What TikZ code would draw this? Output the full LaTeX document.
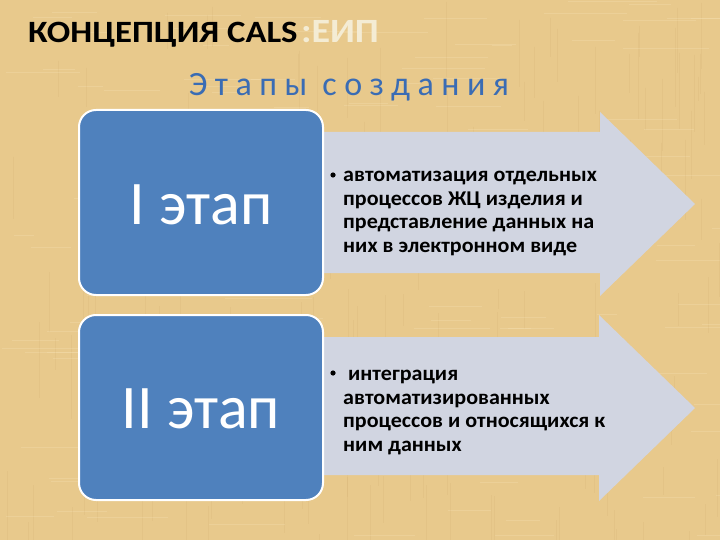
\documentclass[tikz,border=0pt]{standalone}
\usepackage{fontspec}
\setmainfont{Carlito}
\definecolor{bg}{HTML}{E8C98C}
\definecolor{bgdark}{HTML}{C9A466}
\definecolor{bglight}{HTML}{F6E2B4}
\definecolor{boxblue}{HTML}{4F81BD}
\definecolor{arrowgray}{HTML}{D1D5E1}
\definecolor{subblue}{HTML}{3A6CB4}
\definecolor{cream}{HTML}{F4ECD4}
\begin{document}
\begin{tikzpicture}[x=1pt,y=-1pt,
  stagebox/.style={draw=white,line width=2pt,fill=boxblue,rounded corners=17pt},
  bigarrow/.style={fill=arrowgray,draw=none},
  stagelabel/.style={text=white,font=\fontsize{62}{64}\selectfont,inner sep=0pt},
  bullettext/.style={anchor=north west,align=left,inner sep=0pt,
     font=\bfseries\fontsize{21}{23.5}\selectfont\addfontfeature{FakeStretch=1.05},text=black},
  bulletdot/.style={fill=black}]
\fill[bg] (0,0) rectangle (720,540);
\useasboundingbox (0,0) rectangle (720,540);
% woven texture
\pgfmathsetseed{7}
\foreach \i in {1,...,160}{
  \pgfmathsetmacro{\xx}{random(0,720)}
  \pgfmathsetmacro{\yy}{random(0,540)}
  \pgfmathsetmacro{\ll}{random(20,90)}
  \draw[bgdark,opacity=0.14,line width=0.7pt] (\xx,\yy) -- ++(0,\ll);
  \pgfmathsetmacro{\xa}{random(0,720)}
  \pgfmathsetmacro{\ya}{random(0,540)}
  \draw[bglight,opacity=0.3,line width=0.7pt] (\xa,\ya) -- ++(\ll,0);
}
% title
\node[anchor=base west,inner sep=0pt,font=\bfseries\fontsize{31}{32}\selectfont\addfontfeature{FakeStretch=1.12}] (title) at (28,43) {КОНЦЕПЦИЯ CALS};
\node[anchor=base west,inner sep=0pt,font=\bfseries\fontsize{34}{36}\selectfont\addfontfeature{FakeStretch=1.12},text=cream] (eip) at ([xshift=3pt]title.base east) {:ЕИП};
% subtitle
\node[inner sep=0pt,font=\fontsize{34}{36}\selectfont\addfontfeature{LetterSpace=22},text=subblue] (sub) at (349,87) {Этапы создания};
% arrows
\fill[bigarrow] (318,132) -- (600,132) -- (600,112) -- (695,204) -- (600,296) -- (600,273) -- (318,273) -- cycle;
\fill[bigarrow] (318,337) -- (599,337) -- (599,315) -- (695,408) -- (599,501) -- (599,475) -- (318,475) -- cycle;
% boxes
\draw[stagebox] (79,110) rectangle (323,295);
\node[stagelabel] (s1) at (201,205) {I этап};
\draw[stagebox] (79,315) rectangle (323,500);
\node[stagelabel] (s2) at (201,409) {II этап};
% bullets
\fill[bulletdot] (333,175) circle (2.6);
\node[bullettext] (t1) at (343,171) {автоматизация отдельных\\процессов ЖЦ изделия и\\представление данных на\\них в электронном виде};
\fill[bulletdot] (333,373) circle (2.6);
\node[bullettext] (t2) at (343,370) {\ интеграция\\автоматизированных\\процессов и относящихся к\\ним данных};
\end{tikzpicture}
\end{document}
